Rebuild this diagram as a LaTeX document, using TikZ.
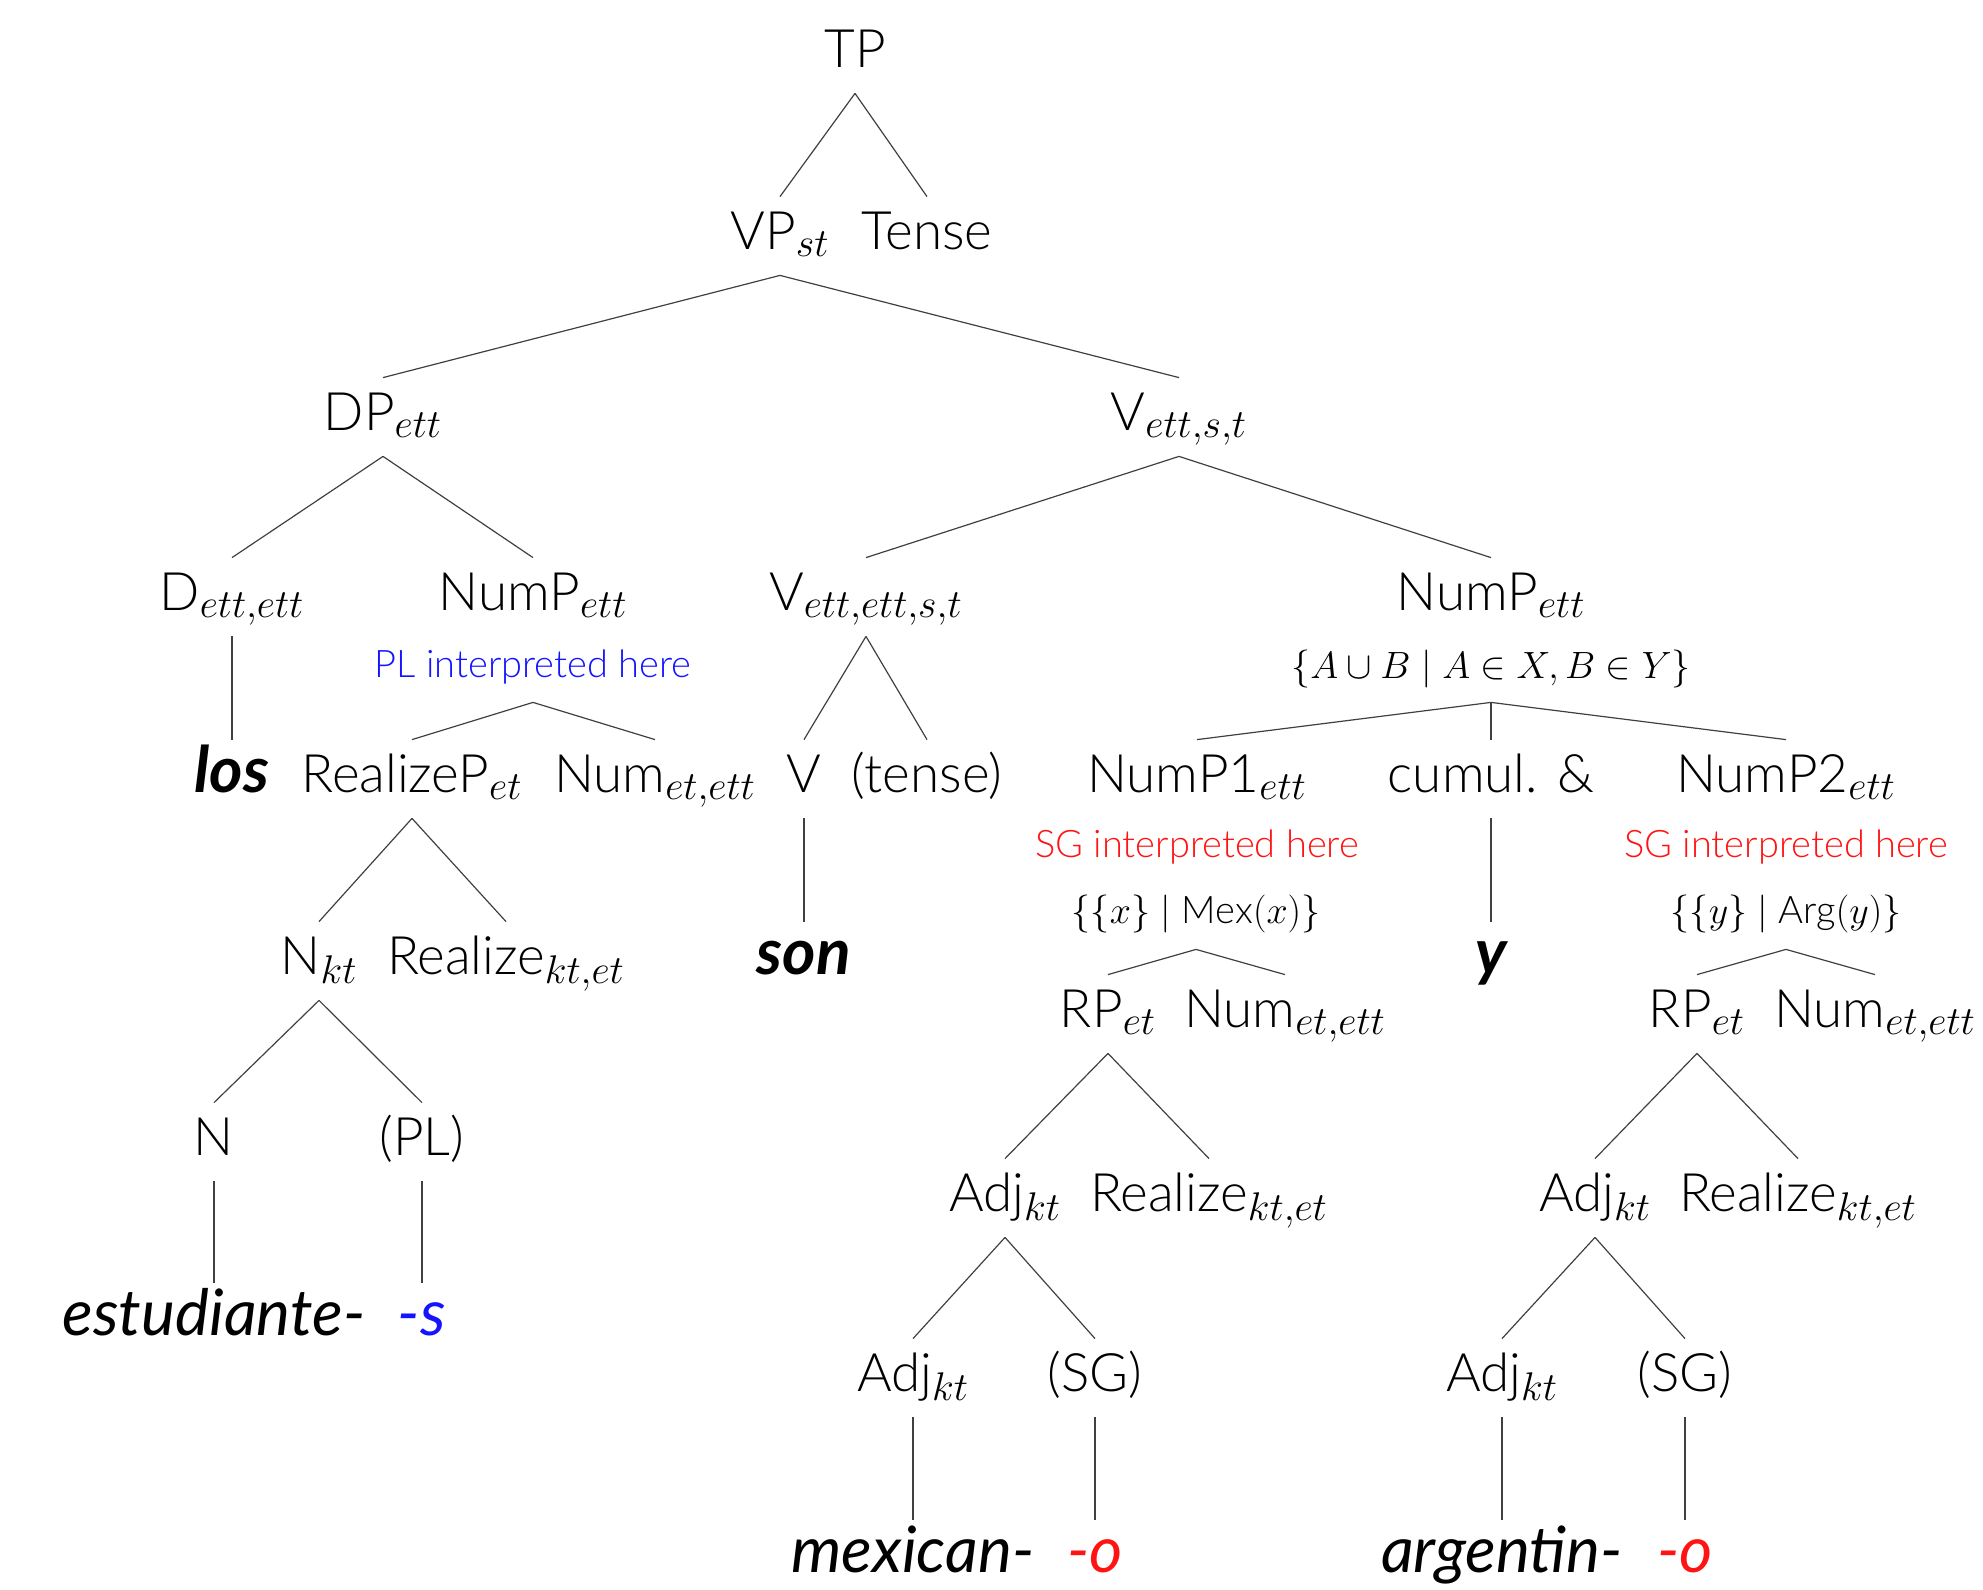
\RequirePackage{fix-cm}
\documentclass[tikz,border=0pt]{standalone}
\usepackage{fontspec}
\setmainfont{Lato}[UprightFont={* Light}, ItalicFont={* Italic}, BoldFont={* Bold}, BoldItalicFont={* Bold Italic}]
\DeclareMathSizes{26.5}{26.5}{20}{15}
\DeclareMathSizes{19}{19}{14}{10}
\definecolor{plblue}{RGB}{20,20,255}
\definecolor{sgred}{RGB}{255,20,20}
\tikzset{
  edge/.style={draw=black!75, line width=0.6pt},
  lab/.style={anchor=base, font=\fontsize{26.5}{32}\selectfont, text height=19.5pt, text depth=6.5pt, inner xsep=0pt, inner ysep=6.5pt},
  word/.style={lab, font=\fontsize{32}{38}\selectfont\itshape},
  bword/.style={lab, font=\fontsize{32}{38}\selectfont\itshape\bfseries},
  note/.style={lab, font=\fontsize{19}{23}\selectfont, inner ysep=6pt},
  setn/.style={lab, font=\fontsize{19}{23}\selectfont},
}
\begin{document}
\begin{tikzpicture}[x=0.5pt,y=-0.5pt]
\useasboundingbox (0,0) rectangle (1983,1590);
% row 1
\node[lab] (TP) at (855,67) {TP};
% row 2
\node[lab] (VP) at (780,249) {VP$_{st}$};
\node[lab] (Tense) at (927,249) {Tense};
% row 3
\node[lab] (DP) at (383,430) {DP$_{ett}$};
\node[lab] (V1) at (1179,430) {V$_{ett,s,t}$};
% row 4
\node[lab] (D) at (232,610) {D$_{ett,ett}$};
\node[lab] (NumPL) at (533,610) {NumP$_{ett}$};
\node[lab] (V2) at (866,610) {V$_{ett,ett,s,t}$};
\node[lab] (NumPR) at (1491,610) {NumP$_{ett}$};
\node[note, text=plblue] (PLnote) at (533,677) {PL interpreted here};
\node[setn, inner ysep=5.5pt] (setAB) at (1491,678) {$\{A\cup B\mid A\in X, B\in Y\}$};
% row 5
\node[bword] (los) at (232,792) {los};
\node[lab] (RealizeP) at (412,792) {RealizeP$_{et}$};
\node[lab] (NumA) at (655,792) {Num$_{et,ett}$};
\node[lab] (V) at (804,792) {V};
\node[lab] (tense) at (927,792) {(tense)};
\node[lab] (NumP1) at (1197,792) {NumP1$_{ett}$};
\node[lab] (cumul) at (1491,792) {cumul. \&};
\node[lab] (NumP2) at (1786,792) {NumP2$_{ett}$};
\node[note, text=sgred] (SG1note) at (1197,857) {SG interpreted here};
\node[note, text=sgred] (SG2note) at (1786,857) {SG interpreted here};
\node[setn] (setX) at (1196,923) {$\{\{x\}\mid\mbox{Mex}(x)\}$};
\node[setn] (setY) at (1786,923) {$\{\{y\}\mid\mbox{Arg}(y)\}$};
% row 6
\node[lab] (Nkt) at (319,974) {N$_{kt}$};
\node[lab] (Real1) at (506,974) {Realize$_{kt,et}$};
\node[bword] (son) at (804,974) {son};
\node[bword] (y) at (1491,974) {y};
% row 7
\node[lab] (RP1) at (1108,1027) {RP$_{et}$};
\node[lab] (NumB) at (1285,1027) {Num$_{et,ett}$};
\node[lab] (RP2) at (1697,1027) {RP$_{et}$};
\node[lab] (NumC) at (1875,1027) {Num$_{et,ett}$};
% row 8
\node[lab] (N) at (214,1155) {N};
\node[lab] (PL) at (422,1155) {(PL)};
% row 9
\node[lab] (Adj1) at (1005,1211) {Adj$_{kt}$};
\node[lab] (Real2) at (1209,1211) {Realize$_{kt,et}$};
\node[lab] (Adj2) at (1595,1211) {Adj$_{kt}$};
\node[lab] (Real3) at (1798,1211) {Realize$_{kt,et}$};
% row 10
\node[word] (estud) at (214,1335) {estudiante-};
\node[word, text=plblue] (s) at (422,1335) {-s};
% row 11
\node[lab] (Adj1b) at (913,1391) {Adj$_{kt}$};
\node[lab] (SG1) at (1095,1391) {(SG)};
\node[lab] (Adj2b) at (1502,1391) {Adj$_{kt}$};
\node[lab] (SG2) at (1685,1391) {(SG)};
% row 12
\node[word] (mex) at (913,1572) {mexican-};
\node[word, text=sgred] (o1) at (1095,1572) {-o};
\node[word] (arg) at (1502,1572) {argentin-};
\node[word, text=sgred] (o2) at (1685,1572) {-o};
% edges
\draw[edge] (TP.south) -- (VP.north);
\draw[edge] (TP.south) -- (Tense.north);
\draw[edge] (VP.south) -- (DP.north);
\draw[edge] (VP.south) -- (V1.north);
\draw[edge] (DP.south) -- (D.north);
\draw[edge] (DP.south) -- (NumPL.north);
\draw[edge] (V1.south) -- (V2.north);
\draw[edge] (V1.south) -- (NumPR.north);
\draw[edge] (D.south) -- (los.north);
\draw[edge] (PLnote.south) -- (RealizeP.north);
\draw[edge] (PLnote.south) -- (NumA.north);
\draw[edge] (V2.south) -- (V.north);
\draw[edge] (V2.south) -- (tense.north);
\draw[edge] (setAB.south) -- (NumP1.north);
\draw[edge] (setAB.south) -- (cumul.north);
\draw[edge] (setAB.south) -- (NumP2.north);
\draw[edge] (RealizeP.south) -- (Nkt.north);
\draw[edge] (RealizeP.south) -- (Real1.north);
\draw[edge] (V.south) -- (son.north);
\draw[edge] (cumul.south) -- (y.north);
\draw[edge] (setX.south) -- (RP1.north);
\draw[edge] (setX.south) -- (NumB.north);
\draw[edge] (setY.south) -- (RP2.north);
\draw[edge] (setY.south) -- (NumC.north);
\draw[edge] (Nkt.south) -- (N.north);
\draw[edge] (Nkt.south) -- (PL.north);
\draw[edge] (RP1.south) -- (Adj1.north);
\draw[edge] (RP1.south) -- (Real2.north);
\draw[edge] (RP2.south) -- (Adj2.north);
\draw[edge] (RP2.south) -- (Real3.north);
\draw[edge] (N.south) -- (estud.north);
\draw[edge] (PL.south) -- (s.north);
\draw[edge] (Adj1.south) -- (Adj1b.north);
\draw[edge] (Adj1.south) -- (SG1.north);
\draw[edge] (Adj2.south) -- (Adj2b.north);
\draw[edge] (Adj2.south) -- (SG2.north);
\draw[edge] (Adj1b.south) -- (mex.north);
\draw[edge] (SG1.south) -- (o1.north);
\draw[edge] (Adj2b.south) -- (arg.north);
\draw[edge] (SG2.south) -- (o2.north);
\end{tikzpicture}
\end{document}
